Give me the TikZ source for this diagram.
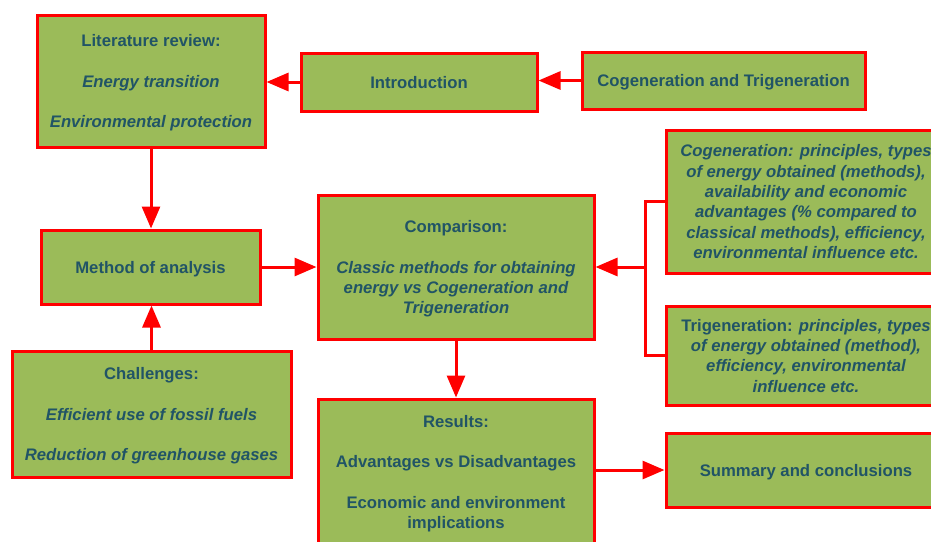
\documentclass[tikz,border=0pt]{standalone}
\usepackage{fontspec}
\setmainfont{Liberation Sans}
\usetikzlibrary{arrows.meta}
\definecolor{boxfill}{RGB}{155,187,89}
\definecolor{boxline}{RGB}{255,0,0}
\definecolor{boxtext}{RGB}{33,84,102}
\tikzset{
  box/.style={draw=boxline, fill=boxfill, line width=3pt, text=boxtext,
    align=center, inner sep=0pt, text depth=0pt,
    font=\fontsize{16.7pt}{20.3pt}\selectfont\bfseries},
  conn/.style={draw=boxline, line width=3pt},
  arr/.style={conn, -{Triangle[length=22pt,width=18pt]}},
}
\begin{document}
\begin{tikzpicture}[x=1pt,y=-1pt]
\clip (0,0) rectangle (931,541);
\node[box, minimum width=228pt, minimum height=132pt] (lit) at (151,81)
  {Literature review:\\[20.3pt] \itshape Energy transition\\[20.3pt] \itshape Environmental protection};
\node[box, minimum width=236pt, minimum height=58pt] (intro) at (419,82) {Introduction};
\node[box, minimum width=283pt, minimum height=57pt] (ct) at (723.5,80.5) {Cogeneration and Trigeneration};
\node[box, minimum width=219pt, minimum height=74pt] (method) at (150.5,267) {Method of analysis};
\node[box, minimum width=276pt, minimum height=144pt] (comp) at (456,267)
  {Comparison:\\[20.3pt] \itshape Classic methods for obtaining\\ \itshape energy vs Cogeneration and\\ \itshape Trigeneration};
\node[box, minimum width=279pt, minimum height=126pt] (chal) at (151.5,414)
  {Challenges:\\[20.3pt] \itshape Efficient use of fossil fuels\\[20.3pt] \itshape Reduction of greenhouse gases};
\node[box, minimum width=280pt, minimum height=143pt] (cog) at (806,201.5)
  {\itshape Cogeneration: principles, types\\ \itshape of energy obtained (methods),\\ \itshape availability and economic\\ \itshape advantages (\% compared to\\ \itshape classical methods), efficiency,\\ \itshape environmental influence etc.};
\node[box, minimum width=280pt, minimum height=99pt] (trig) at (806,355.5)
  {Trigeneration: \itshape principles, types\\ \itshape of energy obtained (method),\\ \itshape efficiency, environmental\\ \itshape influence etc.};
\node[box, minimum width=276pt, minimum height=146pt] (res) at (456,472)
  {Results:\\[20.3pt] Advantages vs Disadvantages\\[20.3pt] Economic and environment\\ implications};
\node[box, minimum width=280pt, minimum height=74pt] (sum) at (806,470) {Summary and conclusions};
\coordinate (br) at (645,267);
% connectors
\draw[arr] (intro.west) -- (intro.west -| lit.east);
\draw[arr] (ct.west) -- (ct.west -| intro.east);
\draw[arr] (lit.south) -- (lit.south |- method.north);
\draw[arr] (chal.north) -- (chal.north |- method.south);
\draw[arr] (method.east) -- (comp.west);
\draw[conn] (cog.west) -| (br) |- (trig.west);
\draw[arr] (br) -- (comp.east);
\draw[arr] (comp.south) -- (res.north);
\draw[arr] (res.east |- sum.west) -- (sum.west);
\end{tikzpicture}
\end{document}
